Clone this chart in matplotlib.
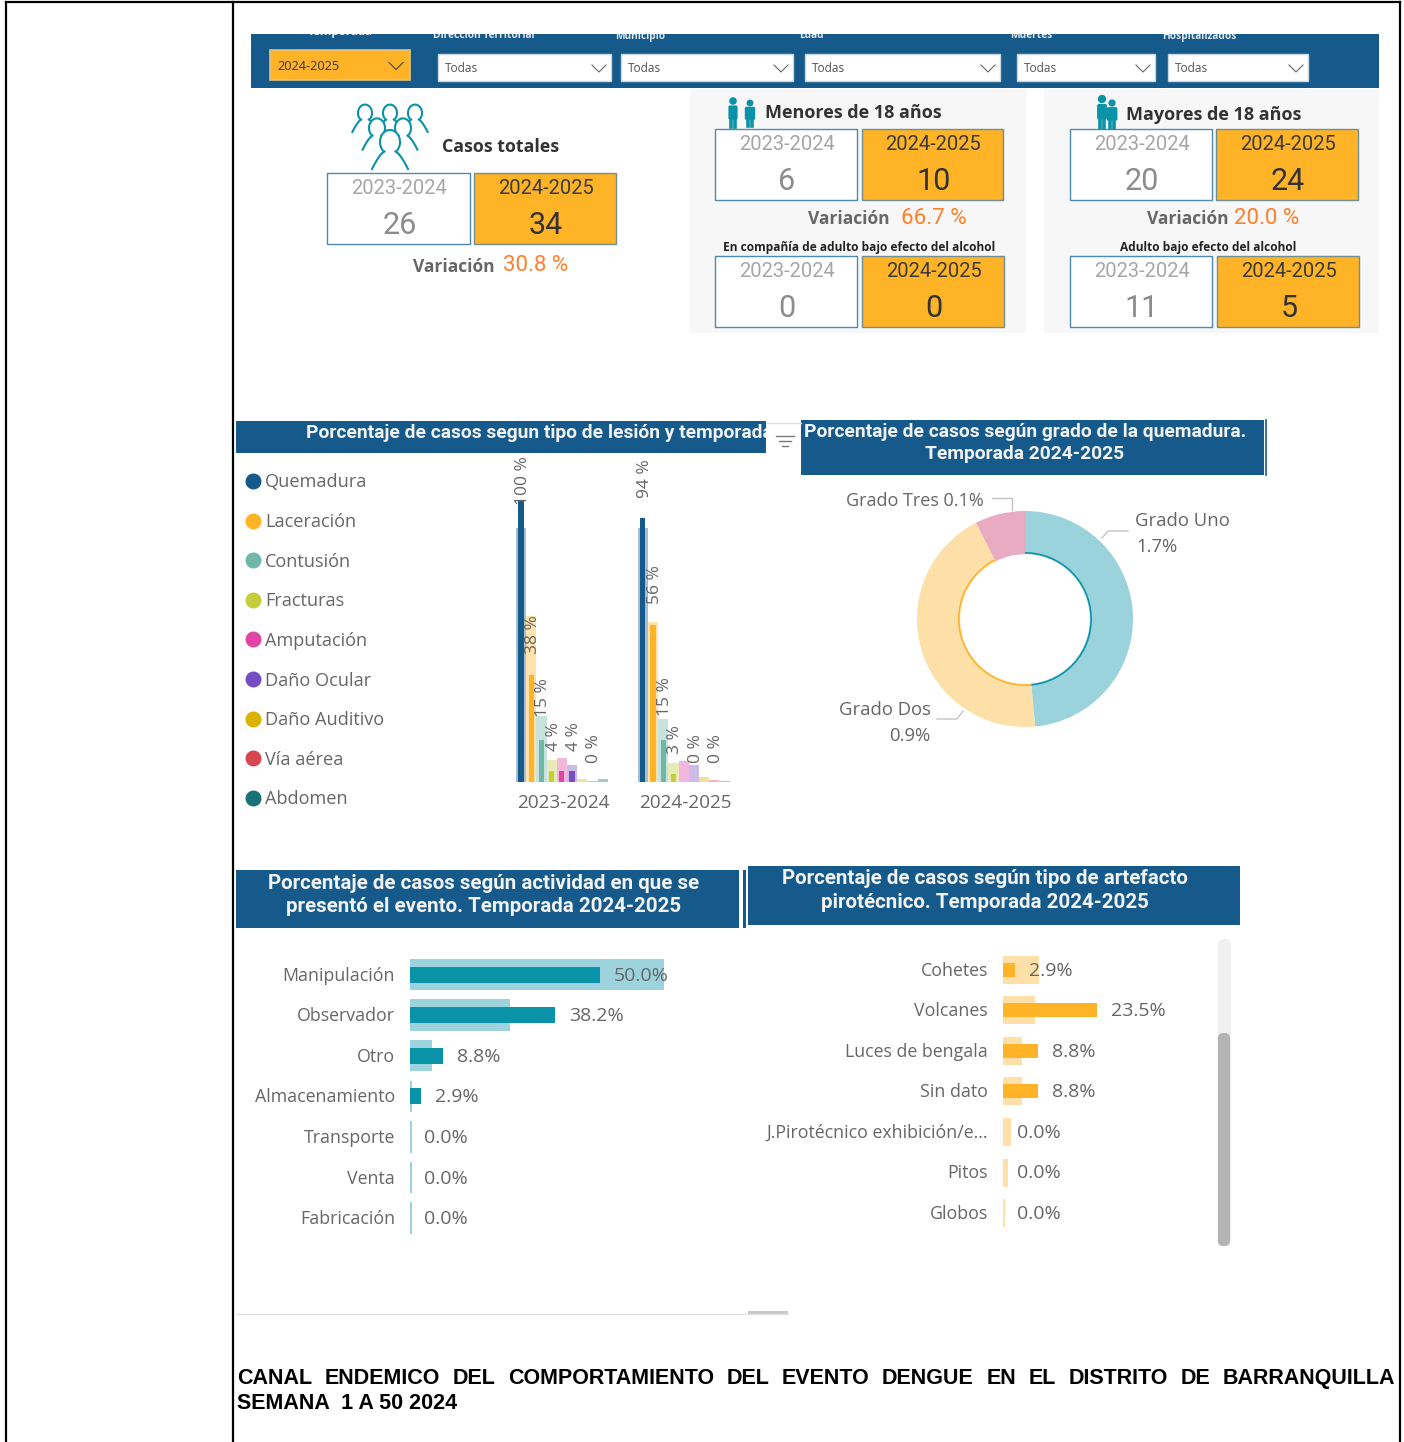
import matplotlib
matplotlib.use("Agg")
import matplotlib.pyplot as plt
from matplotlib.patches import Rectangle, FancyBboxPatch, Circle, Arc, Ellipse
import numpy as np

W, H = 1404, 1442
TEXT = "#666666"
BLUE = "#155a8a"
ORANGE = "#ffb326"
TEAL = "#0a93a8"
SEGOE = "Open Sans"
DIN = "Roboto"

# filtros
filter_names = ["Dirección Territorial", "Municipio", "Edad", "Muertes", "Hospitalizados"]
filter_left = [433, 615, 799, 1010, 1162]
filter_boxes = [(438, 611), (621, 793), (805, 1000), (1017, 1155), (1168, 1308)]

# tarjetas
seasons = ["2023-2024", "2024-2025"]
total_cases = [26, 34]
minors = [6, 10]
adults = [20, 24]
minors_alcohol = [0, 0]
adults_alcohol = [11, 5]

# columnas por tipo de lesion
injuries = ["Quemadura", "Laceración", "Contusión", "Fracturas", "Amputación",
            "Daño Ocular", "Daño Auditivo", "Vía aérea", "Abdomen"]
injury_colors = ["#155a8a", "#ffb326", "#6fb7a8", "#c4ce3a", "#e044a7",
                 "#744ec2", "#d9b300", "#d64550", "#197278"]
injury_now = [[100, 38, 15, 4, 4, 4, 0, 0, 0], [94, 56, 15, 3, 0, 0, 0, 0, 0]]
injury_ref = [[90.4, 59, 23.5, 8, 8.5, 6, 1, 0.5, 1], [90.4, 57, 22.4, 6.8, 7.5, 6, 1.8, 0.7, 0.4]]
injury_labels = [["100 %", "38 %", "15 %", "4 %", "", "4 %", "", "0 %", ""],
                 ["94 %", "56 %", "15 %", "3 %", "", "0 %", "", "0 %", ""]]
label_gap = [[-4, 21, 23, 20, 0, 20, 0, 19, 0], [20, 21, 24, 20, 0, 19, 0, 19, 0]]

# dona
degree_names = ["Grado Uno", "Grado Dos", "Grado Tres"]
degree_share = [48.5, 44, 7.5]
degree_light = ["#9bd3dc", "#fddfa8", "#e9abc1"]
degree_dark = ["#0a93a8", "#ffb326", "#e9abc1"]

# actividad
activity = ["Manipulación", "Observador", "Otro", "Almacenamiento", "Transporte", "Venta", "Fabricación"]
activity_now = [50.0, 38.2, 8.8, 2.9, 0.0, 0.0, 0.0]
activity_ref = [67, 26.4, 5.7, 0.5, 0.4, 0.4, 0.4]

# artefacto
device = ["Cohetes", "Volcanes", "Luces de bengala", "Sin dato", "J.Pirotécnico exhibición/e...", "Pitos", "Globos"]
device_now = [2.9, 23.5, 8.8, 8.8, 0.0, 0.0, 0.0]
device_ref = [9.1, 8.0, 4.7, 4.7, 2.1, 1.3, 0.5]

plt.rcParams["font.family"] = [SEGOE, "DejaVu Sans"]
fig = plt.figure(figsize=(W / 100, H / 100), dpi=100, facecolor="white")

bg = fig.add_axes([0, 0, 1, 1])
bg.set_xlim(0, W)
bg.set_ylim(H, 0)
bg.axis("off")


def px_axes(x0, y0, x1, y1):
    ax = fig.add_axes([x0 / W, 1 - y1 / H, (x1 - x0) / W, (y1 - y0) / H])
    ax.patch.set_alpha(0)
    for s in ax.spines.values():
        s.set_visible(False)
    ax.set_xticks([])
    ax.set_yticks([])
    return ax


def txt(x, y, s, **kw):
    kw.setdefault("va", "center")
    kw.setdefault("zorder", 3)
    return bg.text(x, y + 1.8, s, **kw)


def rect(x0, y0, x1, y1, fc, ec="none", lw=1, z=1):
    r = Rectangle((x0, y0), x1 - x0, y1 - y0, fc=fc, ec=ec, lw=lw, zorder=z)
    bg.add_patch(r)
    return r


def chevron(x, y, w=7, h=3.5, c="#666666"):
    bg.plot([x - w, x, x + w], [y - h, y + h, y - h], color=c, lw=0.8, zorder=4)


def card(x0, x1, y0, season, value, hot):
    fc = ORANGE if hot else "white"
    ec = "#6f8f94" if hot else "#4f88b5"
    col = "#3a3a3a" if hot else "#a6a6a6"
    rect(x0, y0, x1, y0 + 71, fc, ec, 1, 2)
    mid = (x0 + x1) / 2
    txt(mid + 1, y0 + 13.5, season, family=DIN, size=14.5, color=col, ha="center")
    txt(mid + 1, y0 + 50.5, str(value), family=DIN, size=22, color="#8c8c8c" if not hot else "#333333", ha="center")


def person(x, y, r, z, c=TEAL, lw=1.5):
    # cada figura tapa a la de atras
    s = np.linspace(0, 1, 12)
    half = r * 0.55 + r * 1.25 * s ** 0.7
    yy = y + r * 0.95 + r * 1.75 * s
    bg.fill_betweenx(yy, x - half, x + half, color="white", lw=0, zorder=z)
    bg.add_patch(Ellipse((x, y), 2 * r, 2.4 * r, fc="white", ec="none", zorder=z))
    bg.add_patch(Arc((x, y), 2 * r, 2.4 * r, theta1=125, theta2=55, ec=c, lw=lw, zorder=z + 0.1))
    for sign in (-1, 1):
        bg.plot(x + sign * half, yy, color=c, lw=lw, zorder=z + 0.1)


def solid_person(x, y, s, wide=False):
    bg.add_patch(Circle((x, y), 3.8 * s, fc=TEAL, ec="none", zorder=5))
    w = 8 if wide else 6
    bg.add_patch(FancyBboxPatch((x - w * s / 2, y + 6 * s), w * s, 11 * s, boxstyle="round,pad=1.6", fc=TEAL, ec="none", zorder=5))
    bg.plot([x - 2.2 * s, x - 2.2 * s], [y + 16 * s, y + 26 * s], color=TEAL, lw=2.6, zorder=5)
    bg.plot([x + 2.2 * s, x + 2.2 * s], [y + 16 * s, y + 26 * s], color=TEAL, lw=2.6, zorder=5)


# bordes de la tabla
for x in (6, 233, 1400):
    bg.plot([x, x], [2, H], color="black", lw=1.6)
bg.plot([6, 1400], [2, 2], color="black", lw=1.6)

# banda de filtros
band = rect(251, 34, 1379, 88, BLUE, z=1)
t = bg.text(340, 31.5, "Temporada", color="#eef3f7", size=8.4, weight="bold", ha="center", va="center", zorder=2, clip_on=True)
t.set_clip_path(band)
for name, x in zip(filter_names, filter_left):
    t = bg.text(x, 36, name, color="#dfe8ef", size=7.3, weight="bold", ha="left", va="center", zorder=2, clip_on=True)
    t.set_clip_path(band)
rect(270, 50, 410, 80, ORANGE, "#e8c27a", 1.2, 2)
txt(277, 64.5, seasons[1], size=9.2, color="#333333", ha="left")
chevron(396, 66, c="#444444")
for x0, x1 in filter_boxes:
    rect(x0, 54, x1, 81, "white", "#c8d6e0", 1, 2)
    txt(x0 + 7, 67, "Todas", size=8.6, color="#555555", ha="left")
    chevron(x1 - 12, 68.5)

# paneles grises
rect(690, 89, 1026, 333, "#f7f7f7", z=0)
rect(1044, 89, 1379, 333, "#f7f7f7", z=0)

# casos totales
for n, (px, py, r) in enumerate([(365, 113, 7), (390, 113, 7), (415, 113, 7), (377, 128, 8), (403, 128, 8), (390, 142, 10)]):
    person(px, py, r, 4 + n * 0.2)
txt(442, 145.5, "Casos totales", size=12.8, weight="bold", family=SEGOE, color="#333333", ha="left")
card(327, 470, 173, seasons[0], total_cases[0], False)
card(474, 616, 173, seasons[1], total_cases[1], True)
txt(413, 265.5, "Variación", size=12.5, weight="bold", color="#666666", ha="left")
txt(503, 264, "30.8 %", family=DIN, size=16, color="#ff7f2a", ha="left")

# menores
solid_person(733, 101, 1.0)
solid_person(750, 103, 0.9, True)
txt(765, 111, "Menores de 18 años", size=13, weight="bold", color="#333333", ha="left")
card(715, 857, 129, seasons[0], minors[0], False)
card(862, 1003, 129, seasons[1], minors[1], True)
txt(808, 217.5, "Variación", size=12.5, weight="bold", color="#666666", ha="left")
txt(901, 217, "66.7 %", family=DIN, size=16, color="#ff7f2a", ha="left")
txt(859, 246, "En compañía de adulto bajo efecto del alcohol", size=8.6, weight="bold", color="#222222", ha="center")
card(715, 857, 256, seasons[0], minors_alcohol[0], False)
card(862, 1004, 256, seasons[1], minors_alcohol[1], True)

# mayores
solid_person(1102, 99, 1.1)
solid_person(1112, 103, 0.95, True)
txt(1126, 113, "Mayores de 18 años", size=13, weight="bold", color="#333333", ha="left")
card(1070, 1212, 129, seasons[0], adults[0], False)
card(1216, 1358, 129, seasons[1], adults[1], True)
txt(1147, 217.5, "Variación", size=12.5, weight="bold", color="#666666", ha="left")
txt(1234, 217, "20.0 %", family=DIN, size=16, color="#ff7f2a", ha="left")
txt(1208, 246, "Adulto bajo efecto del alcohol", size=8.6, weight="bold", color="#222222", ha="center")
card(1070, 1212, 256, seasons[0], adults_alcohol[0], False)
card(1217, 1359, 256, seasons[1], adults_alcohol[1], True)

# encabezados
band1 = rect(236, 421, 766, 453, BLUE)
t = txt(306, 431.5, "Porcentaje de casos segun tipo de lesión y temporada", family=DIN, size=13.9,
        weight="bold", color="#f2f2f2", ha="left", clip_on=True)
t.set_clip_path(band1)
bg.plot([767, 801], [423, 423], color="#dddddd", lw=1)
for half, yy in zip((9, 6, 3), (436, 441, 446)):
    bg.plot([785 - half, 785 + half], [yy, yy], color="#777777", lw=1)

rect(801, 420, 1264, 475, BLUE)
bg.plot([1266, 1266], [420, 475], color=BLUE, lw=1.2)
txt(1025, 430.5, "Porcentaje de casos según grado de la quemadura.", family=DIN, size=13.9, weight="bold", color="#f2f2f2", ha="center")
txt(1025, 452, "Temporada 2024-2025", family=DIN, size=13.9, weight="bold", color="#f2f2f2", ha="center")

rect(236, 870, 739, 928, BLUE)
rect(743, 870, 746, 928, BLUE)
txt(484, 881.5, "Porcentaje de casos según actividad en que se", family=DIN, size=14.8, weight="bold", color="#f2f2f2", ha="center")
txt(484, 904.5, "presentó el evento. Temporada 2024-2025", family=DIN, size=14.8, weight="bold", color="#f2f2f2", ha="center")

rect(748, 866, 1240, 925, BLUE)
txt(985, 877, "Porcentaje de casos según tipo de artefacto", family=DIN, size=14.8, weight="bold", color="#f2f2f2", ha="center")
txt(985, 901, "pirotécnico. Temporada 2024-2025", family=DIN, size=14.8, weight="bold", color="#f2f2f2", ha="center")

# leyenda
lg = px_axes(240, 461.2, 400, 817.6)
lg.set_xlim(240, 400)
lg.set_ylim(8.5, -0.5)
for i, (name, c) in enumerate(zip(injuries, injury_colors)):
    lg.scatter([253], [i], s=110, color=c, zorder=2)
    lg.annotate(name, (265, i), xytext=(0, -1.5), textcoords="offset pixels", size=13.1, color=TEXT, ha="left", va="center")

# columnas
step = 121.8
bar_w = 10.2 / step
colx0 = 561.8
ax = px_axes(500, 440, 745, 782)
ax.set_xlim((500 - colx0) / step, (745 - colx0) / step)
ax.set_ylim(0, (782 - 440) / 2.81)
for g in range(2):
    for j in range(9):
        x = g + (j - 4) * bar_w
        ax.bar(x, injury_ref[g][j], width=bar_w, color=injury_colors[j], alpha=0.38, lw=0, zorder=1)
        ax.bar(x, injury_now[g][j], width=bar_w * 0.52, color=injury_colors[j], lw=0, zorder=2)
        if injury_labels[g][j]:
            ax.annotate(injury_labels[g][j], (x, injury_now[g][j]), xytext=(2, label_gap[g][j]),
                        textcoords="offset pixels", rotation=90, ha="center", va="bottom",
                        size=12.5, color=TEXT, zorder=3, annotation_clip=False)
    ax.text(g + 2 / step, -(803.5 - 782) / 2.81, seasons[g], size=13.7, color=TEXT, ha="center", va="center", zorder=3)

# dona
dn = px_axes(1025 - 108, 619 - 108, 1025 + 108, 619 + 108)
dn.pie(degree_share, colors=degree_light, startangle=90, counterclock=False, radius=1,
       wedgeprops=dict(width=0.4, lw=0))
dn.pie(degree_share, colors=degree_dark, startangle=90, counterclock=False, radius=0.62,
       wedgeprops=dict(width=0.015, lw=0))
dn.set_xlim(-1, 1)
dn.set_ylim(-1, 1)
lead = "#c4c4c4"
bg.plot([1102, 1108, 1128], [538, 531, 531], color=lead, lw=1)
bg.plot([963, 957, 937], [711, 719, 719], color=lead, lw=1)
bg.plot([992, 1012, 1012], [498, 498, 510], color=lead, lw=1)
txt(1135, 519, degree_names[0], size=13.3, color=TEXT, ha="left")
txt(1136, 545, "1.7%", size=13.3, color=TEXT, ha="left")
txt(931, 708, degree_names[1], size=13.3, color=TEXT, ha="right")
txt(930, 734, "0.9%", size=13.3, color=TEXT, ha="right")
txt(984, 499, degree_names[2] + " 0.1%", size=13, color=TEXT, ha="right")


def hbars(x0, y_first, names, now, ref, color, scale, dark_h, light_h):
    rowh = 40.6
    ax = px_axes(x0, y_first - rowh / 2, x0 + 300, y_first + 6.5 * rowh)
    ax.set_xlim(0, 300 / scale)
    ax.set_ylim(6.5, -0.5)
    ys = np.arange(len(names))
    ax.barh(ys, ref, height=light_h / rowh, color=color, alpha=0.4, lw=0, zorder=1)
    ax.barh(ys, now, height=dark_h / rowh, color=color, lw=0, zorder=2)
    for y, name, v in zip(ys, names, now):
        ax.annotate(name, (0, y), xytext=(-15, -1), textcoords="offset pixels", ha="right", va="center",
                    size=12.8, color=TEXT, annotation_clip=False)
        ax.annotate(f"{v:.1f}%", (v, y), xytext=(14, -1), textcoords="offset pixels", ha="left", va="center",
                    size=14, color=TEXT, zorder=3, annotation_clip=False)


hbars(410, 974.5, activity, activity_now, activity_ref, TEAL, 3.79, 16, 31.5)
hbars(1003, 969.5, device, device_now, device_ref, ORANGE, 3.98, 14, 28)

# barra de desplazamiento
bg.add_patch(FancyBboxPatch((1218, 939), 13, 306, boxstyle="round,pad=0,rounding_size=6", fc="#f0f0f0", ec="none", zorder=1))
bg.add_patch(FancyBboxPatch((1218, 1033), 12, 213, boxstyle="round,pad=0,rounding_size=5", fc="#b3b3b3", ec="none", zorder=2))
bg.plot([236, 788], [1313.5, 1313.5], color="#e3e3e3", lw=1)
rect(748, 1311, 788, 1314, "#c8c8c8")

# pie de texto justificado
words = "CANAL ENDEMICO DEL COMPORTAMIENTO DEL EVENTO DENGUE EN EL DISTRITO DE BARRANQUILLA".split()
fig.canvas.draw()
rend = fig.canvas.get_renderer()
arts = [bg.text(0, 1384, w, family="Liberation Sans", weight="bold", size=15.5, color="black", va="baseline") for w in words]
widths = [a.get_window_extent(rend).width for a in arts]
gap = (1395 - 237 - sum(widths)) / (len(words) - 1)
xpos = 237
for a, w in zip(arts, widths):
    a.set_x(xpos)
    xpos += w + gap
bg.text(237, 1409, "SEMANA  1 A 50 2024", family="Liberation Sans", weight="bold", size=15.5, color="black", va="baseline")

fig.savefig("out.png", dpi=100)
